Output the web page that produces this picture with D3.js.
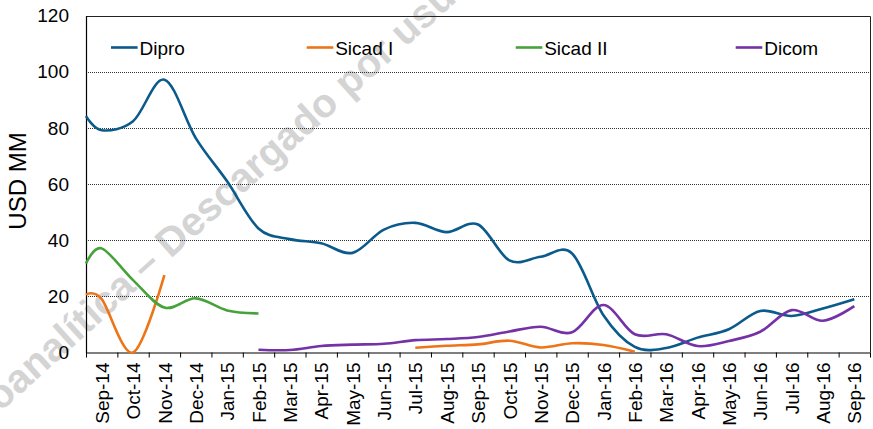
<!DOCTYPE html>
<html>
<head>
<meta charset="utf-8">
<script src="https://cdn.jsdelivr.net/npm/d3@7"></script>
<style>
  html, body { margin: 0; padding: 0; background: #fff; }
  svg { display: block; font-family: "Liberation Sans", Arial, sans-serif; }
</style>
</head>
<body>
<svg id="chart" width="873" height="429"></svg>
<script>
// Month labels (category axis)
const months = ["Sep-14","Oct-14","Nov-14","Dec-14","Jan-15","Feb-15","Mar-15","Apr-15","May-15","Jun-15","Jul-15","Aug-15","Sep-15","Oct-15","Nov-15","Dec-15","Jan-16","Feb-16","Mar-16","Apr-16","May-16","Jun-16","Jul-16","Aug-16","Sep-16"];
// Point positions in month units (first point sits at the start of the axis)
const positions = [-0.5,0,1,2,3,4,5,6,7,8,9,10,11,12,13,14,15,16,17,18,19,20,21,22,23,24];
// Series values (USD MM), aligned with positions
const dipro   = [84.2,79.2,82.4,97.2,76.4,61,44.2,40.4,38.9,35.5,43.8,46.2,42.9,45.6,32.8,34.1,35.3,13.3,2,1.6,5.3,8.3,14.8,13,15.7,19];
const sicad1  = [20.6,19,0,27.6,null,null,null,null,null,null,null,1.7,2.4,2.9,4.2,1.8,3.3,2.7,0.3,null,null,null,null,null,null,null];
const sicad2  = [31.7,37.1,25.8,16,19.3,15,13.9,null,null,null,null,null,null,null,null,null,null,null,null,null,null,null,null,null,null,null];
const dicom   = [null,null,null,null,null,null,1.0,0.9,2.3,2.8,3.1,4.4,4.8,5.5,7.5,9.2,7.2,16.9,6.5,6.5,2.3,4.1,7.4,15.1,11.3,16.5];
const seriesNames = ["Dipro","Sicad I","Sicad II","Dicom"];
const seriesColors = ["#0A5A8C","#EE7418","#46A33A","#7432A6"];
const yTicks = [0,20,40,60,80,100,120];
const yLabel = "USD MM";
const watermark = "Ecoanalítica – Descargado por usuario";

const svg = d3.select("#chart");
const L = 86, R = 870, T = 15.7, B = 352.5;

const x = d3.scaleLinear().domain([-0.5, 24.5]).range([L, R]);
const y = d3.scaleLinear().domain([0, 120]).range([B, T]);

// watermark
svg.append("text")
  .attr("transform", "translate(-36,445) rotate(-42)")
  .attr("font-size", 40).attr("font-weight", "bold")
  .attr("fill", "#d4d4d4")
  .text(watermark);

// gridlines (dotted)
svg.append("g").selectAll("line")
  .data(yTicks.filter(v => v > 0 && v < 120))
  .join("line")
  .attr("x1", L).attr("x2", R)
  .attr("y1", d => Math.round(y(d)) + 0.5).attr("y2", d => Math.round(y(d)) + 0.5)
  .attr("stroke", "#333").attr("stroke-width", 1).attr("stroke-dasharray", "1,1");

// frame top/right
svg.append("path")
  .attr("d", `M${L},${Math.round(T)+0.5}H${R+0.5}V${B}`)
  .attr("fill", "none").attr("stroke", "#222").attr("stroke-width", 1);

// y axis
const yAxis = svg.append("g")
  .attr("transform", `translate(${L},0)`)
  .call(d3.axisLeft(y).tickValues(yTicks).tickSize(0).tickPadding(17).tickFormat(d3.format("d")));
yAxis.select(".domain").attr("stroke", "#000").attr("stroke-width", 1.2);
yAxis.selectAll("text").attr("font-size", 19).attr("fill", "#000").attr("font-family", "Liberation Sans, Arial, sans-serif");

// x axis tick marks at month boundaries
const boundaries = d3.range(-0.5, 25, 1);
const xTicks = svg.append("g")
  .attr("transform", `translate(0,${B})`)
  .call(d3.axisBottom(x).tickValues(boundaries).tickSize(5).tickSizeOuter(0).tickFormat(""));
xTicks.select(".domain").attr("stroke", "#000").attr("stroke-width", 1.2);
xTicks.selectAll(".tick line").attr("stroke", "#000").attr("stroke-width", 1);

// x labels
const xLab = svg.append("g")
  .attr("transform", `translate(0,${B})`)
  .call(d3.axisBottom(x).tickValues(d3.range(0, 25)).tickSize(0).tickFormat(i => months[i]));
xLab.select(".domain").remove();
xLab.selectAll("text")
  .attr("transform", "rotate(-90)")
  .attr("x", -10).attr("y", 0).attr("dy", "0.35em")
  .attr("text-anchor", "end")
  .attr("font-size", 19).attr("fill", "#000")
  .attr("font-family", "Liberation Sans, Arial, sans-serif");

// y label
svg.append("text")
  .attr("transform", "translate(26,181) rotate(-90)")
  .attr("text-anchor", "middle")
  .attr("font-size", 24).attr("fill", "#000")
  .text(yLabel);

// lines
const allSeries = [dipro, sicad1, sicad2, dicom];
const line = d3.line()
  .defined(d => d.v != null)
  .x(d => x(d.p)).y(d => y(d.v))
  .curve(d3.curveCardinal.tension(0));
const plot = svg.append("g");
allSeries.forEach((vals, k) => {
  const pts = positions.map((p, i) => ({p, v: vals[i]}));
  plot.append("path")
    .datum(pts)
    .attr("d", line)
    .attr("fill", "none")
    .attr("stroke", seriesColors[k])
    .attr("stroke-width", 2.6)
    .attr("stroke-linecap", "butt");
});

// legend
const legendX = [111, 306.7, 515.7, 735.7];
const leg = svg.append("g");
seriesNames.forEach((name, k) => {
  leg.append("line")
    .attr("x1", legendX[k]).attr("x2", legendX[k] + 26.6)
    .attr("y1", 47.5).attr("y2", 47.5)
    .attr("stroke", seriesColors[k]).attr("stroke-width", 2.6);
  leg.append("text")
    .attr("x", legendX[k] + 28.5).attr("y", 54.5)
    .attr("font-size", 19).attr("fill", "#000")
    .text(name);
});
</script>
</body>
</html>
